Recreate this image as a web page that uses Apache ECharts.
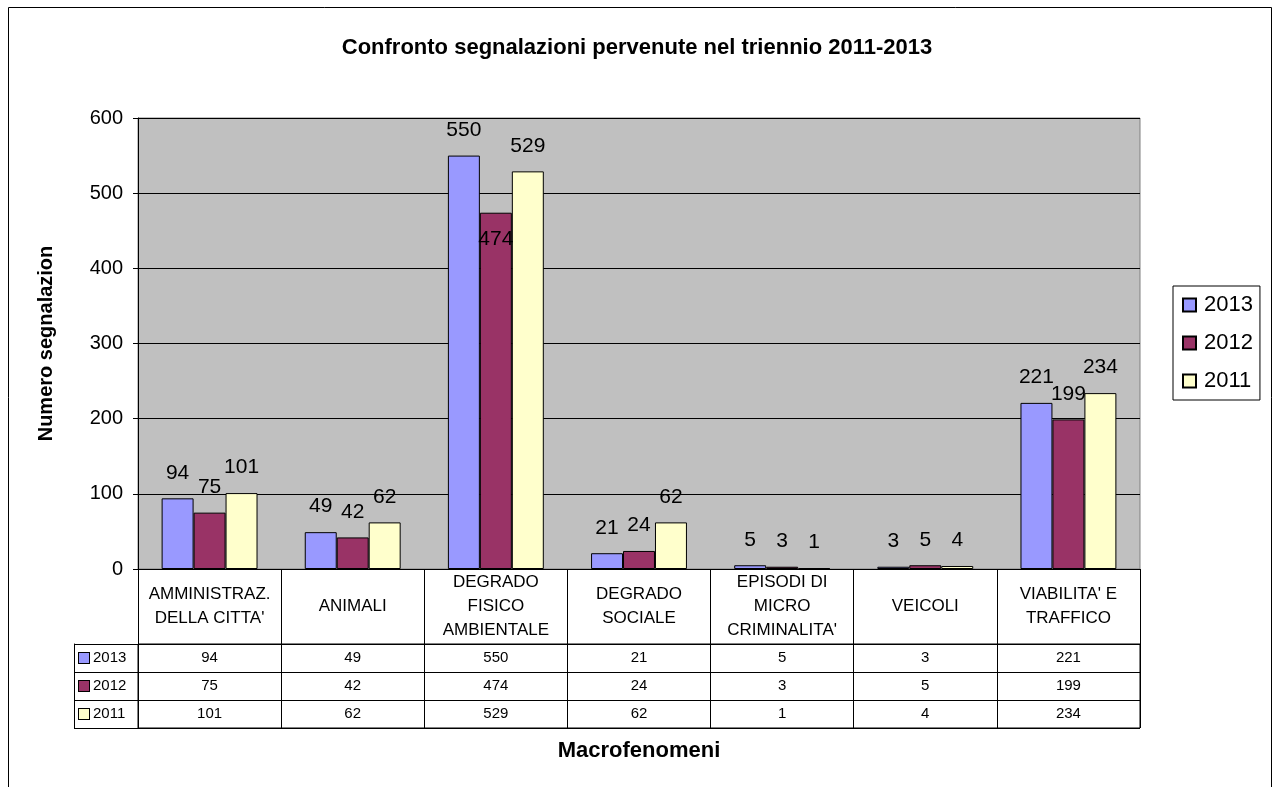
<!DOCTYPE html>
<html>
<head>
<meta charset="utf-8">
<script src="https://cdn.jsdelivr.net/npm/echarts@6/dist/echarts.min.js"></script>
<style>html,body{margin:0;padding:0;background:#fff;}#c{width:1274px;height:787px;}</style>
</head>
<body>
<div id="c"></div>
<script>
var categories = ["AMMINISTRAZ.\nDELLA CITTA'", "ANIMALI", "DEGRADO\nFISICO\nAMBIENTALE", "DEGRADO\nSOCIALE", "EPISODI DI\nMICRO\nCRIMINALITA'", "VEICOLI", "VIABILITA' E\nTRAFFICO"];
var years = ["2013", "2012", "2011"];
var v2013 = [94, 49, 550, 21, 5, 3, 221];
var v2012 = [75, 42, 474, 24, 3, 5, 199];
var v2011 = [101, 62, 529, 62, 1, 4, 234];
var yTicks = [0, 100, 200, 300, 400, 500, 600];

var colors = {"2013": "#9999FF", "2012": "#993366", "2011": "#FFFFCC"};
var seriesValues = [v2013, v2012, v2011];
var FONT = "'Liberation Sans', Arial, sans-serif";

var tableData = [];
seriesValues.forEach(function (arr, r) {
  arr.forEach(function (v, i) { tableData.push([i, r, v]); });
});

var chart = echarts.init(document.getElementById('c'), null, {renderer: 'canvas'});

var baseLabel = {show: true, position: 'top', distance: 15, color: '#000', fontSize: 21, fontFamily: FONT};

var barSeries = years.map(function (y, k) {
  var data = seriesValues[k].map(function (v, i) {
    // the reference places the 2012 label of the tallest group inside its bar
    if (k === 1 && i === 2) {
      return {value: v, label: {position: 'insideTop', distance: 16}};
    }
    return v;
  });
  return {
    name: y,
    type: 'bar',
    xAxisIndex: 0,
    yAxisIndex: 0,
    data: data,
    barGap: '0%',
    barCategoryGap: '33%',
    itemStyle: {color: colors[y], borderColor: '#000', borderWidth: 1},
    label: baseLabel,
    emphasis: {disabled: true}
  };
});

var rich = {};
years.forEach(function (y) {
  rich['s' + y] = {width: 10, height: 10, backgroundColor: colors[y], borderColor: '#000', borderWidth: 1};
  rich['t' + y] = {fontSize: 15, fontFamily: FONT, color: '#000', padding: [0, 0, 0, 4]};
});

var option = {
  animation: false,
  backgroundColor: '#fff',
  textStyle: {fontFamily: FONT},
  title: {
    text: 'Confronto segnalazioni pervenute nel triennio 2011-2013',
    left: 'center', top: 32,
    textStyle: {fontSize: 22, fontWeight: 'bold', color: '#000', fontFamily: FONT}
  },
  legend: {
    data: years,
    orient: 'vertical',
    left: 1173, top: 286,
    padding: [8, 7, 8, 9],
    itemGap: 16,
    itemWidth: 13, itemHeight: 13,
    icon: 'rect',
    borderColor: '#000', borderWidth: 1,
    backgroundColor: '#fff',
    textStyle: {fontSize: 22, color: '#000', fontFamily: FONT, padding: [0, 0, 0, 3]}
  },
  graphic: [{
    type: 'rect', silent: true,
    shape: {x: 8.5, y: 7.5, width: 1263, height: 820},
    style: {fill: 'none', stroke: '#000', lineWidth: 1}
  }],
  grid: [
    {left: 138, top: 118, width: 1002, height: 451, show: true, backgroundColor: '#C0C0C0', borderColor: '#808080', borderWidth: 1},
    {left: 138, top: 644, width: 1002, height: 84, show: true, backgroundColor: 'transparent', borderColor: '#000', borderWidth: 1}
  ],
  xAxis: [
    {
      type: 'category', gridIndex: 0, data: categories, boundaryGap: true,
      axisLine: {show: true, lineStyle: {color: '#000'}},
      axisTick: {show: true, interval: 0, alignWithLabel: false, length: 75, lineStyle: {color: '#000'}},
      axisLabel: {interval: 0, margin: 37, verticalAlign: 'middle', lineHeight: 24, fontSize: 17, color: '#000', fontFamily: FONT},
      splitLine: {show: false}
    },
    {
      type: 'category', gridIndex: 1, data: categories, boundaryGap: true, position: 'bottom',
      axisLine: {show: false}, axisTick: {show: false}, axisLabel: {show: false},
      splitLine: {show: true, interval: 0, lineStyle: {color: '#000', width: 1}},
      name: 'Macrofenomeni', nameLocation: 'middle', nameGap: 12,
      nameTextStyle: {fontSize: 22, fontWeight: 'bold', color: '#000', fontFamily: FONT}
    }
  ],
  yAxis: [
    {
      type: 'value', gridIndex: 0, min: yTicks[0], max: yTicks[yTicks.length - 1], interval: 100,
      axisLine: {show: true, lineStyle: {color: '#000'}},
      axisTick: {show: true, length: 5, lineStyle: {color: '#000'}},
      axisLabel: {fontSize: 20, color: '#000', margin: 15, fontFamily: FONT},
      splitLine: {show: true, lineStyle: {color: '#000', width: 1}},
      name: 'Numero segnalazion', nameLocation: 'middle', nameGap: 82,
      nameTextStyle: {fontSize: 20, fontWeight: 'bold', color: '#000', fontFamily: FONT}
    },
    {
      type: 'category', gridIndex: 1, data: years, inverse: true, boundaryGap: true,
      axisLine: {show: true, lineStyle: {color: '#000'}},
      axisTick: {show: true, interval: 0, length: 64, lineStyle: {color: '#000'}},
      axisLabel: {
        interval: 0, align: 'left', margin: 59,
        formatter: function (v) { return '{s' + v + '|}{t' + v + '|' + v + '}'; },
        rich: rich
      },
      splitLine: {show: true, interval: 0, lineStyle: {color: '#000', width: 1}}
    },
    {
      type: 'category', gridIndex: 1, data: years, inverse: true, position: 'left', offset: 64,
      axisLine: {show: true, lineStyle: {color: '#000'}},
      axisTick: {show: false}, axisLabel: {show: false}, splitLine: {show: false}
    }
  ],
  series: barSeries.concat([{
    name: 'table',
    type: 'custom',
    xAxisIndex: 1, yAxisIndex: 1,
    data: tableData,
    encode: {x: 0, y: 1},
    silent: true,
    renderItem: function (params, api) {
      var p = api.coord([api.value(0), api.value(1)]);
      return {
        type: 'text',
        style: {x: p[0], y: p[1], text: String(api.value(2)), align: 'center', verticalAlign: 'middle', fontSize: 15, fontFamily: FONT, fill: '#000'}
      };
    }
  }])
};
chart.setOption(option);
</script>
</body>
</html>
